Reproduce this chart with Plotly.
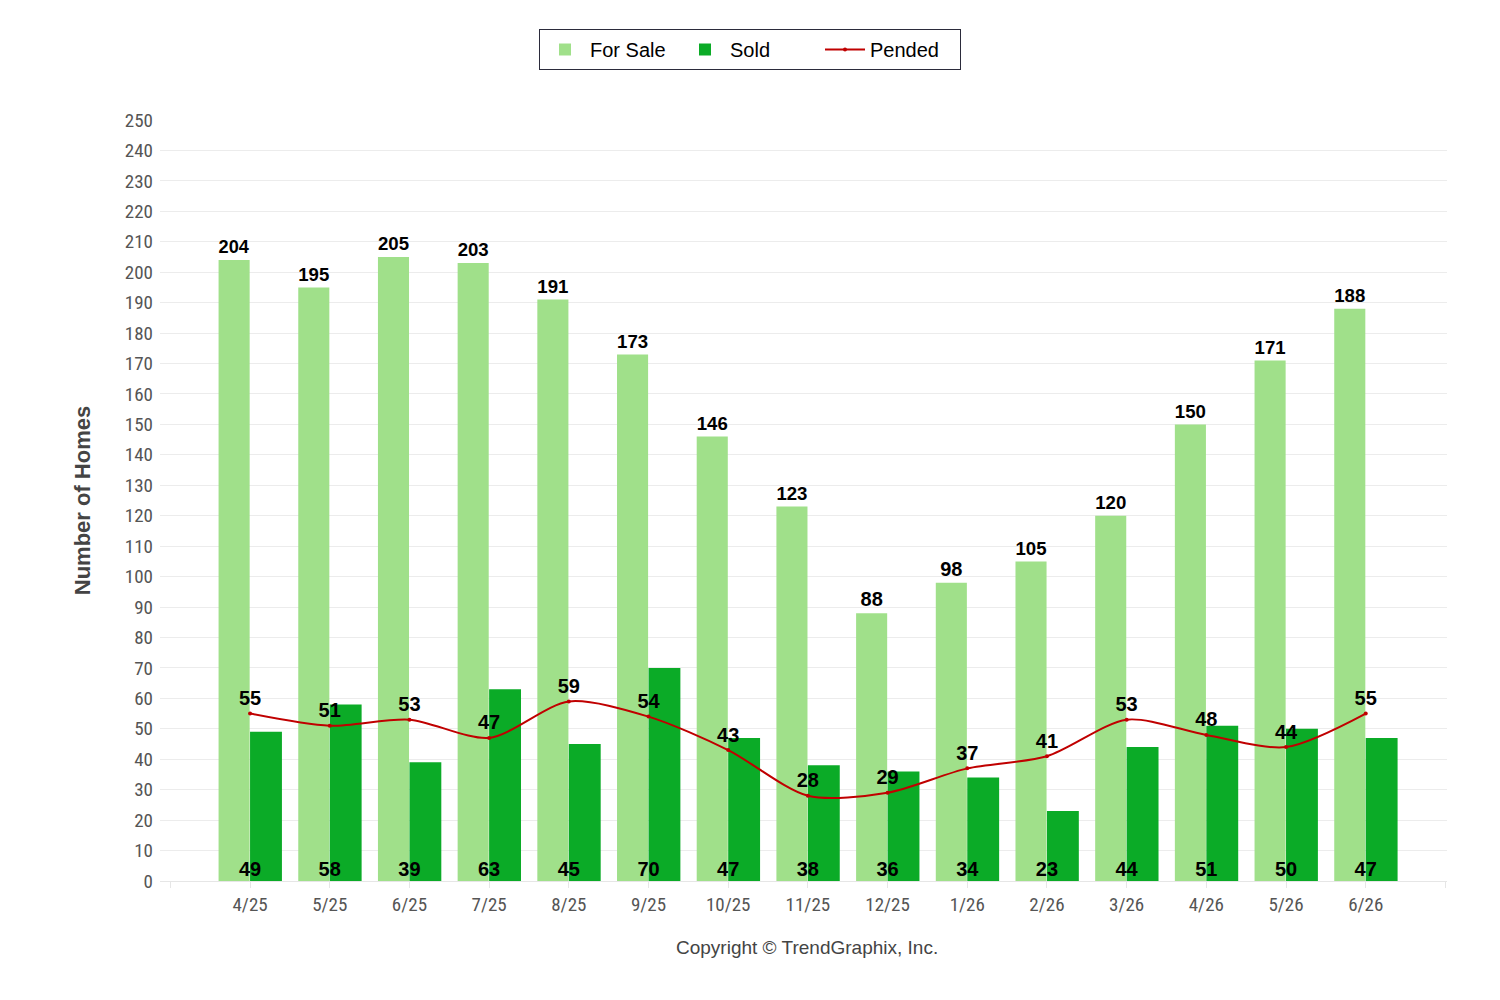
import plotly.graph_objects as go

months = ["4/25", "5/25", "6/25", "7/25", "8/25", "9/25", "10/25", "11/25",
          "12/25", "1/26", "2/26", "3/26", "4/26", "5/26", "6/26"]
for_sale = [204, 195, 205, 203, 191, 173, 146, 123, 88, 98, 105, 120, 150, 171, 188]
sold = [49, 58, 39, 63, 45, 70, 47, 38, 36, 34, 23, 44, 51, 50, 47]
pended = [55, 51, 53, 47, 59, 54, 43, 28, 29, 37, 41, 53, 48, 44, 55]

idx = list(range(len(months)))
label_font = dict(family="Liberation Sans, Arial, sans-serif", size=20, color="#000000")
fig = go.Figure()

fig.add_trace(go.Bar(
    name="For Sale", x=idx, y=for_sale, offset=-0.395, width=0.39,
    marker=dict(color="#a0e08a", line=dict(width=0)),
    text=[f"<b>{v}</b>" for v in for_sale], textposition="outside",
    textfont=label_font, cliponaxis=False,
))
fig.add_trace(go.Bar(
    name="Sold", x=idx, y=sold, offset=0.0, width=0.4,
    marker=dict(color="#0bab27", line=dict(width=0)),
))
fig.add_trace(go.Scatter(
    name="Pended", x=idx, y=pended, mode="lines+markers+text",
    line=dict(color="#c00000", width=2, shape="spline", smoothing=0.8),
    marker=dict(size=4, color="#c00000"),
    text=[f"<b>{v}</b>" for v in pended], textposition="top center",
    textfont=label_font, cliponaxis=False,
))
fig.add_trace(go.Scatter(
    x=idx, y=[0] * len(idx), mode="text", showlegend=False,
    text=[f"<b>{v}</b>" for v in sold], textposition="top center",
    textfont=label_font, cliponaxis=False, hoverinfo="skip",
))

tick_font = dict(family="Liberation Sans Narrow, Roboto Condensed, Arial Narrow, sans-serif",
                 size=19, color="#555555")

fig.update_layout(
    width=1500, height=1000,
    margin=dict(l=160, r=53, t=120, b=119),
    paper_bgcolor="white", plot_bgcolor="white",
    barmode="overlay",
    showlegend=True,
    legend=dict(
        orientation="h", x=0.5, xanchor="center", xref="container",
        y=0.93, yanchor="bottom", yref="container",
        font=dict(family="Liberation Sans, Arial, sans-serif", size=20, color="#000000"),
        bordercolor="#2b2b3b", borderwidth=1, bgcolor="white",
        itemwidth=40, traceorder="normal",
        entrywidth=85, entrywidthmode="pixels",
    ),
    xaxis=dict(
        range=[-1.13, 15.02],
        tickvals=list(range(-1, 16)),
        ticktext=[""] + months + [""],
        tickfont=tick_font,
        showgrid=False, zeroline=False,
        showline=True, linecolor="#e6e6e6", linewidth=1,
        ticks="outside", ticklen=6, tickcolor="#e6e6e6",
    ),
    yaxis=dict(
        range=[0, 250], dtick=10, tick0=0,
        tickfont=tick_font, ticklabelstandoff=6,
        gridcolor="#ececec", gridwidth=1,
        zeroline=False, showline=False,
        title=dict(text="<b>Number of Homes</b>",
                   font=dict(family="Liberation Sans, Arial, sans-serif", size=22, color="#444444"),
                   standoff=28),
    ),
    annotations=[dict(
        text="Copyright © TrendGraphix, Inc.", xref="paper", yref="paper",
        x=0.503, y=-0.088, xanchor="center", yanchor="middle", showarrow=False,
        font=dict(family="Liberation Sans, Arial, sans-serif", size=19, color="#444444"),
    )],
)

fig.write_html("out.html")
